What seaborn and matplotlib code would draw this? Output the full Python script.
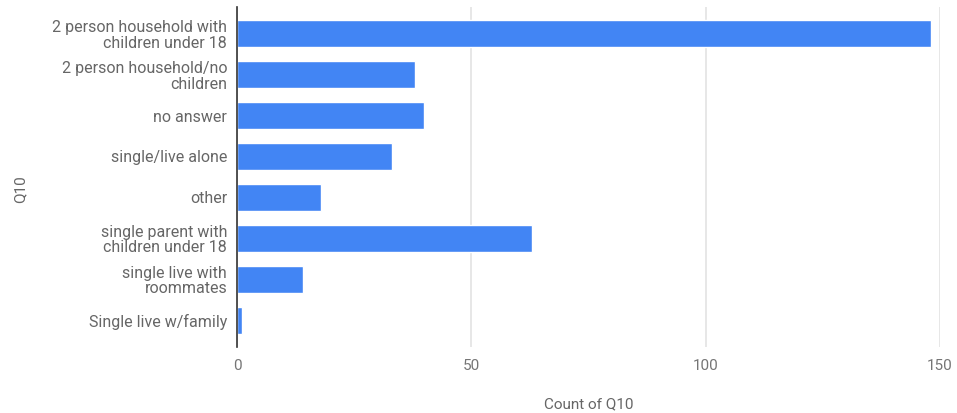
import matplotlib
matplotlib.use("Agg")
import matplotlib.pyplot as plt
import seaborn as sns
import pandas as pd

categories = [
    "2 person household with\nchildren under 18",
    "2 person household/no\nchildren",
    "no answer",
    "single/live alone",
    "other",
    "single parent with\nchildren under 18",
    "single live with\nroommates",
    "Single live w/family",
]
counts = [148, 38, 40, 33, 18, 63, 14, 1]
x_ticks = [0, 50, 100, 150]

sns.set_theme(style="white")
plt.rcParams["font.family"] = ["Roboto", "DejaVu Sans"]

df = pd.DataFrame({"Q10": categories, "Count of Q10": counts})

fig = plt.figure(figsize=(9.57, 4.13), dpi=100)
ax = fig.add_axes([0.2476, 0.160, 0.7346, 0.823])

sns.barplot(data=df, y="Q10", x="Count of Q10", order=categories,
            color="#4285F4", saturation=1, width=0.65, ax=ax, zorder=3)

ax.set_xlim(0, 150)
ax.set_ylim(7.65, -0.65)
ax.set_xticks(x_ticks)
ax.set_xticklabels([str(t) for t in x_ticks], color="#757575", fontsize=11)
ax.grid(axis="x", color="#e3e3e3", linewidth=1.2, zorder=0)
ax.grid(axis="y", visible=False)
for s in ["top", "right", "bottom"]:
    ax.spines[s].set_visible(False)
ax.spines["left"].set_color("#333333")
ax.spines["left"].set_linewidth(1.2)
ax.spines["left"].set_zorder(5)
ax.tick_params(axis="both", length=0)
ax.tick_params(axis="y", pad=7)
ax.tick_params(axis="x", pad=9)
for lbl in ax.get_yticklabels():
    lbl.set_color("#666666")
    lbl.set_fontsize(11.5)
    lbl.set_linespacing(1.05)

ax.set_xlabel("Count of Q10", color="#666666", fontsize=11, labelpad=17)
ax.set_ylabel("Q10", color="#666666", fontsize=11)
ax.yaxis.set_label_coords(-0.298, 0.465)

fig.savefig("out.png", dpi=100)
